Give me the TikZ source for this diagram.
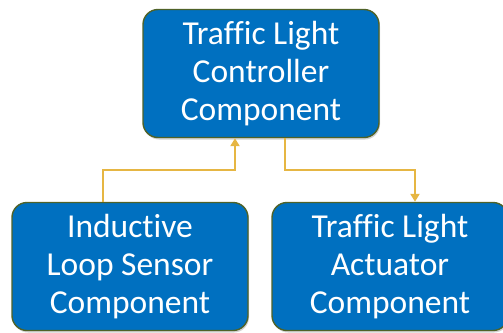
\documentclass[tikz,border=0pt]{standalone}
\usepackage{fontspec}
\setmainfont[Ligatures=NoCommon]{Carlito}
\usetikzlibrary{arrows.meta,shadows}
\definecolor{boxblue}{HTML}{0070C0}
\definecolor{boxedge}{HTML}{4F6228}
\definecolor{linkgold}{HTML}{E6B643}
\tikzset{
  comp/.style={draw=boxedge, line width=1.4pt, fill=boxblue, rounded corners=15pt,
    minimum width=236pt, minimum height=128pt, align=center, text=white,
    font=\fontsize{33.5}{38}\selectfont,
    drop shadow={opacity=0.35, shadow xshift=1pt, shadow yshift=-2pt}},
  conn/.style={draw=linkgold, line width=2.4pt,
    -{Triangle[width=9pt,length=8pt]}}
}
\begin{document}
\begin{tikzpicture}[x=1pt, y=-1pt]
        \useasboundingbox (0,0) rectangle (503,332);

        \node[comp] (ctrl) at (261,73.5) {Traffic Light\\Controller\\Component};
        \node[comp] (sensor) at (130,266.5) {Inductive\\Loop Sensor\\Component};
        \node[comp] (actuator) at (390,266.5) {Traffic Light\\Actuator\\Component};

        \draw[conn] ([xshift=-27pt]sensor.north) -- ++(0,-32) -| ([xshift=-26pt]ctrl.south);
        \draw[conn] ([xshift=24pt]ctrl.south) -- ++(0,32) -| ([xshift=25pt]actuator.north);
\end{tikzpicture}
\end{document}
